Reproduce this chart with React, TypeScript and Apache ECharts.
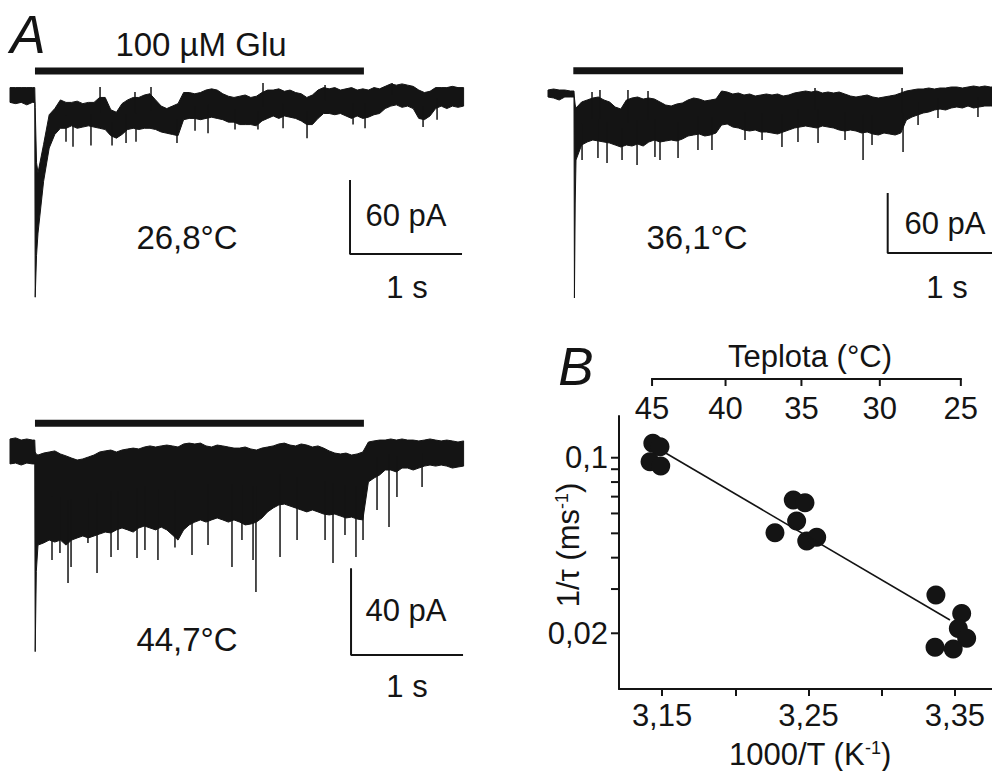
import React, { useEffect, useRef } from "react";
import * as echarts from "echarts";

// ---------- DATA ----------
const DT = 0.05; // s between envelope samples of the current traces

// Trace 1 (26,8 °C): upper / lower envelope of the noisy current, pA
const trace1Hi = [6,6,6,6,6,-63,-40,-16,-11,-4,-6,-6,-5,-7,-6,-6,-2,-2,-12,-14,-7,-4,-2,-2,0,1,-4,-9,-11,-9,-7,2,2,1,2,4,5,4,1,-1,-2,-1,0,-2,-1,2,4,4,5,3,4,2,1,-2,0,4,6,5,6,4,5,6,4,5,4,6,5,7,9,8,9,8,7,4,2,3,6,6,6,7,6,6];
const trace1Lo = [-6,-7,-6,-8,-6,-112,-70,-43,-32,-27,-27,-25,-27,-26,-25,-26,-27,-28,-33,-35,-32,-28,-27,-28,-27,-27,-28,-30,-31,-32,-33,-20,-19,-19,-20,-19,-18,-19,-20,-22,-22,-24,-24,-24,-25,-21,-19,-17,-19,-17,-18,-19,-21,-24,-24,-19,-15,-15,-16,-15,-17,-19,-17,-19,-18,-16,-15,-11,-9,-8,-10,-9,-11,-19,-20,-17,-11,-9,-11,-9,-10,-9];
const trace1Onset = [[0.221, 6, -6], [0.225, -10, -164], [0.237, -55, -130]];
const trace1Spikes = [[0.5,-38],[0.5625,-42],[0.723,-41],[0.911,-41],[1.036,-39],[1.125,-38],[1.491,-39],[1.652,-29],[1.768,-31],[2.009,-28],[2.214,-28],[2.438,-27],[2.652,-35],[3.063,-24],[3.17,-27],[3.688,-26],[3.813,-20],[0.804,6.5],[1.116,2.4],[1.259,6.5],[2.259,9.7],[2.813,8.1],[3.411,9.7]];
const trace1Glu = [[0.223, 19.5], [3.16, 19.5]];
const trace1Scale = [[3.036, -69], [3.036, -129], [4.036, -129]]; // 60 pA, 1 s

// Trace 2 (36,1 °C)
const trace2Hi = [3,4,3,3,2,-15,-9,-7,-5,-4,-7,-9,-14,-16,-7,-5,-4,-6,-5,-6,-9,-12,-13,-11,-10,-7,-5,-6,-8,-7,-6,2,1,-1,0,-2,-1,-3,-2,-1,-2,-1,-3,-2,0,1,2,1,2,0,1,0,1,-1,-3,-4,-3,-2,-4,-5,-4,-3,-2,0,2,3,4,4,5,4,5,5,6,6,5,6,7,6,7,6,6];
const trace2Lo = [-4,-5,-7,-4,-4,-67,-52,-49,-47,-48,-49,-50,-52,-54,-52,-53,-51,-53,-49,-47,-49,-48,-47,-48,-46,-43,-42,-41,-43,-42,-40,-32,-31,-34,-35,-37,-38,-37,-39,-39,-40,-41,-39,-37,-35,-34,-33,-34,-35,-33,-34,-35,-37,-38,-37,-38,-40,-39,-41,-42,-40,-41,-42,-40,-27,-24,-22,-20,-19,-17,-16,-17,-15,-14,-15,-13,-15,-14,-13,-13,-13];
const trace2Onset = [[0.232, 2, -4], [0.236, -5, -205], [0.243, -12, -110]];
const trace2Spikes = [[0.304,-67],[0.446,-65],[0.527,-70],[0.661,-67],[0.795,-72],[0.955,-64],[1.0,-67],[1.161,-65],[1.339,-57],[1.464,-57],[1.759,-47],[1.911,-47],[2.089,-54],[2.232,-49],[2.411,-50],[2.652,-47],[2.813,-67],[2.893,-52],[3.17,-59],[3.304,-32],[3.482,-25],[3.839,-24],[0.393,1],[0.464,3],[0.714,3],[0.893,2],[2.384,5],[3.161,5]];
const trace2Glu = [[0.226, 22.3], [3.17, 22.3]];
const trace2Scale = [[3.033, -100], [3.033, -160], [4.033, -160]]; // 60 pA, 1 s

// Trace 3 (44,7 °C)
const trace3Hi = [6.0,6.5,5.5,6.0,5.5,-1.4,-0.5,0,0.5,-0.9,-1.8,-2.8,-3.7,-3.2,-2.3,-1.4,0,0.5,0.9,0,0.9,1.4,1.8,1.4,2.3,2.8,2.3,2.8,3.2,2.8,2.3,3.7,4.1,3.7,4.1,2.8,2.3,3.2,2.8,2.3,1.8,1.8,2.3,1.4,0.9,1.8,2.3,2.8,3.7,4.1,3.2,2.8,3.7,3.2,2.3,2.8,1.8,0.5,-0.5,-0.9,-0.5,-1.4,-0.9,0,4.6,5.1,5.5,5.5,6.0,5.5,6.0,5.5,5.5,5.1,5.5,6.0,5.5,5.1,5.5,5.1,4.6,5.1];
const trace3Lo = [-5.5,-5.1,-6.0,-5.1,-5.5,-42.9,-41.9,-40.6,-41.5,-40.6,-42.9,-40.6,-39.6,-38.7,-39.6,-38.7,-37.8,-36.9,-37.3,-35.9,-35.0,-35.9,-36.9,-35.0,-34.1,-35.0,-35.9,-34.6,-35.9,-38.2,-40.6,-35.9,-33.6,-32.3,-31.3,-32.3,-31.3,-30.4,-31.3,-32.3,-31.3,-32.3,-33.6,-33.2,-32.3,-30.4,-27.6,-25.8,-24.4,-24.0,-24.9,-25.8,-26.7,-27.6,-26.7,-27.6,-28.6,-29.0,-28.6,-29.5,-30.4,-30.0,-30.9,-31.3,-13.8,-12.0,-10.6,-8.3,-8.3,-9.2,-7.4,-7.4,-8.3,-7.4,-6.5,-6.0,-6.5,-6.0,-6.5,-7.4,-6.9,-6.5];
const trace3Onset = [[0.221, 5.5, -5.5], [0.225, 0, -92], [0.235, -1, -55]];
const trace3Spikes = [[0.375,-49.8],[0.446,-46.5],[0.518,-60.4],[0.545,-53.0],[0.696,-41.9],[0.777,-55.8],[0.902,-48.4],[0.964,-45.2],[1.134,-48.8],[1.205,-45.2],[1.321,-49.8],[1.473,-44],[1.625,-47.5],[1.768,-42.9],[1.982,-53.0],[2.071,-40.6],[2.17,-49.8],[2.196,-64.5],[2.411,-48.4],[2.563,-40.6],[2.813,-40.6],[2.884,-51.2],[2.991,-38.2],[3.089,-48.4],[3.152,-40.6],[3.277,-26.7],[3.384,-34.6],[3.455,-20.7],[3.679,-16.1]];
const trace3Glu = [[0.223, 13.2], [3.16, 13.2]];
const trace3Scale = [[3.045, -53.6], [3.045, -93.6], [4.045, -93.6]]; // 40 pA, 1 s

// Panel B: 1/tau vs 1000/T
const bX = [3.1437,3.1486,3.1418,3.1491,3.2396,3.2476,3.2419,3.2271,3.2488,3.2556,3.3370,3.3546,3.3523,3.3580,3.3364,3.3488];
const bY = [0.1141,0.1106,0.0964,0.0927,0.0679,0.0662,0.0560,0.0503,0.0466,0.0482,0.0284,0.0240,0.0209,0.0191,0.0176,0.0173];
const bFit = [[3.1498, 0.1066], [3.3466, 0.0226]];
const xTicksB = [3.15, 3.2, 3.25, 3.3, 3.35];
const xLabelsB = [3.15, 3.25, 3.35];
const yTicksB = [0.02, 0.03, 0.04, 0.05, 0.06, 0.07, 0.08, 0.09, 0.1];
const yLabelsB = [0.02, 0.1];
const tempTicks = [45, 40, 35, 30, 25];

// ---------- LAYOUT / STYLE ----------
const FONT = "'Liberation Sans', Arial, Helvetica, sans-serif";
const INK = "#141414";
const FS = 31;
const FS_A = 33;
const PX_PER_S = 112;
const B_XMIN = 3.1206, B_XMAX = 3.3753, B_YMIN = 0.012, B_YMAX = 0.1466;

function buildBand(hi: number[], lo: number[], onset: number[][]) {
  const rows = hi.map((h, i) => [i * DT, h, lo[i]]);
  return rows.concat(onset).sort((a, b) => a[0] - b[0]);
}

function bandSeries(idx: number, rows: number[][]) {
  return {
    type: "custom", xAxisIndex: idx, yAxisIndex: idx, silent: true,
    data: rows, encode: { x: 0, y: [1, 2] },
    renderItem: (params: any, api: any) => {
      if (params.dataIndex !== 0) return null;
      const top = rows.map((r) => api.coord([r[0], r[1]]));
      const bot = rows.map((r) => api.coord([r[0], r[2]])).reverse();
      return { type: "polygon", shape: { points: top.concat(bot) }, style: { fill: INK, stroke: INK, lineWidth: 1 } };
    },
  };
}

function spikeSeries(idx: number, spikes: number[][], hi: number[], lo: number[]) {
  return {
    type: "custom", xAxisIndex: idx, yAxisIndex: idx, silent: true,
    data: spikes, encode: { x: 0, y: 1 },
    renderItem: (params: any, api: any) => {
      const t = api.value(0), v = api.value(1);
      const i = Math.min(hi.length - 1, Math.round(t / DT));
      const mid = (hi[i] + lo[i]) / 2;
      const a = api.coord([t, mid]), b = api.coord([t, v]);
      return { type: "line", shape: { x1: a[0], y1: a[1], x2: b[0], y2: b[1] }, style: { stroke: INK, lineWidth: 1.5 } };
    },
  };
}

function barSeries(idx: number, data: number[][], width: number) {
  return {
    type: "line", xAxisIndex: idx, yAxisIndex: idx, data, symbol: "none", silent: true,
    lineStyle: { color: INK, width }, itemStyle: { color: INK },
  };
}

function txt(text: string, x: number, y: number, extra: any = {}) {
  return {
    type: "text", x, y, silent: true,
    style: {
      text, fill: INK, fontSize: FS, fontFamily: FONT,
      textAlign: "center", textVerticalAlign: "middle", align: "center", verticalAlign: "middle", ...extra,
    },
  };
}

export default function App() {
  const ref = useRef<HTMLDivElement>(null);
  useEffect(() => {
    if (!ref.current) return;
    const chart = echarts.init(ref.current, null, { renderer: "svg" });
    const k1 = 1.233, k2 = 1.0, k3 = 2.17; // px per pA for each trace
    const hidden = { show: false };
    const grids = [
      { left: 10, top: 95 - 30 * k1, width: 4.05 * PX_PER_S, height: 200 * k1 },
      { left: 548, top: 93 - 30 * k2, width: 444, height: 240 * k2 },
      { left: 10, top: 452 - 20 * k3, width: 4.05 * PX_PER_S, height: 120 * k3 },
      { left: 619, top: 416, width: 373, height: 273 },
    ];
    const option: any = {
      animation: false,
      backgroundColor: "#ffffff",
      grid: grids,
      xAxis: [
        { gridIndex: 0, type: "value", min: 0, max: 4.05, ...hidden },
        { gridIndex: 1, type: "value", min: 0, max: 444 / PX_PER_S, ...hidden },
        { gridIndex: 2, type: "value", min: 0, max: 4.05, ...hidden },
        {
          gridIndex: 3, type: "value", min: B_XMIN, max: B_XMAX,
          axisLine: { show: true, onZero: false, lineStyle: { color: INK, width: 2 } },
          axisTick: { show: true, customValues: xTicksB, length: 7, lineStyle: { color: INK, width: 2 } },
          axisLabel: {
            show: true, customValues: xLabelsB, margin: 11, color: INK, fontSize: FS, fontFamily: FONT,
            formatter: (v: number) => v.toFixed(2).replace(".", ","),
          },
          splitLine: { show: false },
        },
      ],
      yAxis: [
        { gridIndex: 0, type: "value", min: -170, max: 30, ...hidden },
        { gridIndex: 1, type: "value", min: -210, max: 30, ...hidden },
        { gridIndex: 2, type: "value", min: -100, max: 20, ...hidden },
        {
          gridIndex: 3, type: "log", logBase: 10, min: B_YMIN, max: B_YMAX,
          axisLine: { show: true, onZero: false, lineStyle: { color: INK, width: 2 } },
          axisTick: { show: false }, axisLabel: { show: false }, splitLine: { show: false },
          minorTick: { show: false },
        },
      ],
      series: [
        bandSeries(0, buildBand(trace1Hi, trace1Lo, trace1Onset)),
        spikeSeries(0, trace1Spikes, trace1Hi, trace1Lo),
        barSeries(0, trace1Glu, 7),
        barSeries(0, trace1Scale, 2),
        bandSeries(1, buildBand(trace2Hi, trace2Lo, trace2Onset)),
        spikeSeries(1, trace2Spikes, trace2Hi, trace2Lo),
        barSeries(1, trace2Glu, 7),
        barSeries(1, trace2Scale, 2),
        bandSeries(2, buildBand(trace3Hi, trace3Lo, trace3Onset)),
        spikeSeries(2, trace3Spikes, trace3Hi, trace3Lo),
        barSeries(2, trace3Glu, 7),
        barSeries(2, trace3Scale, 2),
        {
          type: "line", xAxisIndex: 3, yAxisIndex: 3, data: bFit, symbol: "none", silent: true,
          lineStyle: { color: INK, width: 1.6 },
        },
        {
          type: "scatter", xAxisIndex: 3, yAxisIndex: 3, silent: true,
          data: bX.map((x, i) => [x, bY[i]]), symbolSize: 19, itemStyle: { color: INK, opacity: 1 },
        },
        {
          // left log-axis ticks and labels
          type: "custom", xAxisIndex: 3, yAxisIndex: 3, silent: true,
          data: yTicksB.map((v) => [B_XMIN, v]), encode: { x: 0, y: 1 },
          renderItem: (params: any, api: any) => {
            const v = yTicksB[params.dataIndex];
            const p = api.coord([B_XMIN, v]);
            const children: any[] = [
              { type: "line", shape: { x1: p[0] - 8, y1: p[1], x2: p[0], y2: p[1] }, style: { stroke: INK, lineWidth: 2 } },
            ];
            if (yLabelsB.indexOf(v) >= 0) {
              children.push({
                type: "text", x: p[0] - 11, y: p[1],
                style: {
                  text: String(v).replace(".", ","), fill: INK, fontSize: FS, fontFamily: FONT,
                  textAlign: "right", align: "right", textVerticalAlign: "middle", verticalAlign: "middle",
                },
              });
            }
            return { type: "group", children };
          },
        },
        {
          // top temperature axis (°C), placed at 1000/T of each tick
          type: "custom", xAxisIndex: 3, yAxisIndex: 3, silent: true,
          data: tempTicks.map((T) => [1000 / (T + 273.15), B_YMAX]), encode: { x: 0, y: 1 },
          renderItem: (params: any, api: any) => {
            const T = tempTicks[params.dataIndex];
            const p = api.coord([1000 / (T + 273.15), B_YMAX]);
            const y0 = p[1] - 37;
            const children: any[] = [
              { type: "line", shape: { x1: p[0], y1: y0, x2: p[0], y2: y0 + 7 }, style: { stroke: INK, lineWidth: 2 } },
              {
                type: "text", x: p[0], y: y0 + 29,
                style: {
                  text: String(T), fill: INK, fontSize: FS, fontFamily: FONT,
                  textAlign: "center", align: "center", textVerticalAlign: "middle", verticalAlign: "middle",
                },
              },
            ];
            if (params.dataIndex === 0) {
              const a = api.coord([1000 / (tempTicks[0] + 273.15), B_YMAX]);
              const b = api.coord([1000 / (tempTicks[tempTicks.length - 1] + 273.15), B_YMAX]);
              children.push({ type: "line", shape: { x1: a[0] - 1, y1: y0, x2: b[0] + 1, y2: y0 }, style: { stroke: INK, lineWidth: 2 } });
            }
            return { type: "group", children };
          },
        },
      ],
      graphic: [
        txt("A", 28, 34, { fontSize: 53, fontStyle: "italic" }),
        txt("B", 576, 366, { fontSize: 53, fontStyle: "italic" }),
        txt("100 µM Glu", 201, 44, { fontSize: FS_A }),
        txt("26,8°C", 187, 237, { fontSize: FS_A }),
        txt("60 pA", 406, 215),
        txt("1 s", 407, 287),
        txt("36,1°C", 697, 237, { fontSize: FS_A }),
        txt("60 pA", 945, 223),
        txt("1 s", 947, 287),
        txt("44,7°C", 187, 639, { fontSize: FS_A }),
        txt("40 pA", 406, 610),
        txt("1 s", 407, 686),
        txt("Teplota (°C)", 810, 356),
        txt("1000/T (K{sup|-1})", 810, 754, {
          rich: { sup: { fontSize: 18, fontFamily: FONT, fill: INK, verticalAlign: "top" } },
        }),
        {
          type: "text", x: 568, y: 545, rotation: Math.PI / 2, silent: true,
          style: {
            text: "1/τ (ms{sup|-1})", fill: INK, fontSize: FS, fontFamily: FONT,
            textAlign: "center", align: "center", textVerticalAlign: "middle", verticalAlign: "middle",
            rich: { sup: { fontSize: 18, fontFamily: FONT, fill: INK, verticalAlign: "top" } },
          },
        },
      ],
    };
    chart.setOption(option);
    return () => chart.dispose();
  }, []);
  return (
    <div
      ref={ref}
      style={{ position: "fixed", left: 0, top: 0, width: 992, height: 771, background: "#fff" }}
    />
  );
}
